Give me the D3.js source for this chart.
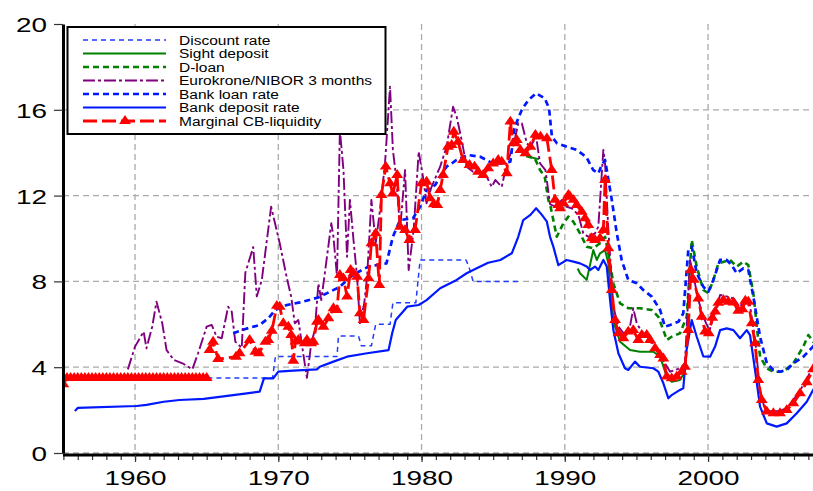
<!DOCTYPE html>
<meta charset="utf-8">
<head>
<style>
  body { margin: 0; background: #fff; }
  svg { font-family: "Liberation Sans", Arial, sans-serif; }
  .axis text { font-size: 21px; fill: #000; }
  .axis .domain { stroke: #000; stroke-width: 3px; }
  .grid line { stroke: #aaa; stroke-width: 1.3px; stroke-dasharray: 6,4; }
  .legend text { font-size: 13.5px; fill: #000; }
</style>
</head>
<body>
<div id="chart"></div>
<script src="https://d3js.org/d3.v7.min.js"></script>
<script>

var yTicks = [0, 4, 8, 12, 16, 20];
var xTicks = [1960, 1970, 1980, 1990, 2000];

var discountRate = [[1955,3.5],[1969.6,3.5],[1969.8,4.5],[1974.1,4.5],[1974.2,5.45],[1975.6,5.45],[1975.8,5.0],[1976.5,5.0],
  [1976.8,6.0],[1977.8,6.0],[1978.0,7.0],[1979.6,7.0],[1979.9,9.0],[1983.1,9.0],[1983.3,8.7],[1983.6,8.0],[1986.8,8.0]];

var sightDeposit = [[1987.5,13.8],[1988.2,13.7], null,
  [1990.9,8.6],[1991.06,8.38],[1991.53,8.07],[1991.99,9.46],[1992.23,9.0],[1992.46,9.31],[1992.81,9.46],[1993.04,8.84],
  [1993.28,6.82],[1993.51,5.89],[1993.86,5.19],[1994.55,4.8],[1995.25,4.72],[1996.18,4.72],[1996.65,4.49],[1997.12,3.56],
  [1997.46,3.32],[1998.04,3.4],[1998.3,3.7]];

var dLoan = [[1987.3,13.85],[1987.9,13.75],[1988.27,13.19],[1988.6,12.88],[1988.85,11.8],[1989.0,11.5],[1989.44,10.08],
  [1989.9,10.71],[1990.25,11.02],[1990.6,10.78],[1991.06,10.24],[1991.53,9.62],[1991.99,9.54],[1992.46,9.78],[1992.81,10.08],
  [1993.04,9.31],[1993.39,7.91],[1993.86,6.98],[1994.43,6.75],[1995.25,6.75],[1996.07,6.67],[1996.53,6.35],[1996.88,5.73],
  [1997.12,5.27],[1997.46,5.42],[1998.04,5.58],[1998.51,6.35],[1998.86,9.93],[1999.21,8.69],[1999.67,7.6],[2000.02,7.45],
  [2000.37,8.07],[2000.72,8.84],[2001.53,9.0],[2002.0,8.69],[2002.46,8.92],[2002.81,8.76],[2003.16,7.45],[2003.63,4.49],
  [2004.1,3.95],[2004.56,3.79],[2005.26,3.79],[2005.95,4.18],[2006.65,4.96],[2007.0,5.5],[2007.33,5.19],[2007.5,5.1]];

var eurokrone = [[1959.5,3.9],[1960.0,4.96],[1960.6,5.66],[1960.8,4.88],[1961.2,5.89],[1961.5,7.05],[1961.9,6.05],[1962.2,4.8],
  [1962.7,4.34],[1963.4,4.15],[1964.0,3.9],[1964.4,4.65],[1965.0,5.89],[1965.35,5.97],[1965.7,5.42],[1966.05,5.35],[1966.5,6.82],
  [1966.75,6.59],[1967.0,5.19],[1967.45,4.9],[1967.7,8.4],[1968.25,9.6],[1968.5,7.3],[1968.85,8.07],[1969.5,11.48],[1970.1,9.78],
  [1970.6,8.15],[1970.9,7.29],[1971.15,6.05],[1971.4,6.2],[1971.75,4.6],[1972.0,3.5],[1972.3,5.11],[1972.55,5.73],[1972.8,7.9],
  [1973.0,7.13],[1973.4,9.15],[1973.7,10.71],[1973.85,10.08],[1974.1,8.22],[1974.3,15.06],[1974.55,13.19],[1974.8,9.15],
  [1975.0,11.8],[1975.25,9.93],[1975.5,8.22],[1975.7,6.05],[1976.0,6.98],[1976.2,8.22],[1976.5,11.8],[1976.8,9.78],[1977.1,11.33],
  [1977.45,13.5],[1977.8,17.08],[1978.0,14.13],[1978.25,12.73],[1978.5,10.4],[1978.85,13.19],[1979.1,8.53],[1979.45,10.4],
  [1979.8,14.05],[1980.1,12.88],[1980.35,11.64],[1980.7,12.41],[1981.3,13.35],[1981.75,14.28],[1982.2,16.14],[1982.45,15.68],
  [1982.8,14.59],[1983.15,13.35],[1983.6,13.11],[1984.1,13.19],[1984.55,12.88],[1984.9,12.41],[1985.15,12.73],[1985.6,12.41],
  [1985.95,13.5],[1986.4,14.28],[1986.75,15.37],[1987.0,15.37],[1987.35,14.44],[1987.6,14.28],[1988.0,14.75],[1988.27,13.5],
  [1988.65,13.19],[1988.97,11.6],[1989.35,11.48],[1989.8,11.8],[1990.13,11.48],[1990.48,11.41],[1990.95,11.1],[1991.29,10.24],
  [1991.64,10.08],[1992.11,10.24],[1992.34,10.55],[1992.69,14.13],[1992.81,13.5],[1993.04,10.4],[1993.39,6.82],[1993.74,5.89],
  [1994.2,5.5],[1994.55,5.89],[1994.78,6.75],[1995.02,6.05],[1995.37,5.66],[1995.9,5.4],[1996.3,4.96],[1996.99,4.18],
  [1997.35,3.79],[1997.7,3.87],[1998.04,3.95],[1998.39,4.18],[1998.74,9.0],[1999.0,8.2],[1999.32,7.13],[1999.7,6.3],
  [2000.1,5.7],[2000.5,6.6],[2000.84,7.37],[2001.3,7.3],[2001.8,7.2],[2002.2,6.8],[2002.6,7.2],[2002.9,7.0],[2003.3,5.2],
  [2003.6,3.0],[2003.9,2.2],[2004.3,1.95],[2005.0,1.95],[2005.5,2.1],[2006.0,2.5],[2006.5,3.0],[2007.0,3.6],[2007.5,4.3]];

var bankLoan = [[1966.85,5.58],[1967.8,5.8],[1968.7,5.97],[1969.3,6.28],[1969.8,6.67],[1970.6,6.9],[1971.5,7.02],[1972.8,7.25],
  [1974.3,7.75],[1975.2,8.3],[1976.3,8.69],[1977.55,8.84],[1978.0,10.08],[1978.5,10.86],[1979.4,10.94],[1979.9,11.48],
  [1980.35,12.26],[1980.95,12.49],[1981.3,12.9],[1981.75,13.35],[1982.45,13.66],[1983.25,13.89],[1984.1,13.81],[1984.75,13.58],
  [1985.5,13.5],[1986.2,13.58],[1986.5,15.2],[1987.0,16.0],[1987.45,16.45],[1988.0,16.77],[1988.6,16.53],[1988.9,16.07],
  [1989.1,14.75],[1989.45,14.44],[1990.15,14.28],[1990.83,14.13],[1991.5,13.8],[1991.99,13.19],[1992.34,13.04],[1992.58,13.43],
  [1992.81,13.66],[1992.93,13.19],[1993.28,11.8],[1993.63,10.24],[1993.97,9.0],[1994.43,8.07],[1995.02,7.91],[1995.48,7.6],
  [1996.07,7.29],[1996.65,6.67],[1996.99,5.89],[1997.35,5.97],[1997.93,6.12],[1998.27,6.51],[1998.62,9.46],[1998.86,9.62],
  [1999.21,8.38],[1999.67,7.75],[2000.02,7.52],[2000.37,8.07],[2000.84,9.0],[2001.3,9.0],[2001.65,8.76],[2002.0,8.38],
  [2002.46,8.61],[2002.81,8.53],[2003.16,7.29],[2003.63,5.42],[2004.1,4.18],[2004.56,3.87],[2005.02,3.79],[2005.49,3.87],
  [2005.95,4.18],[2006.65,4.49],[2007.33,4.96],[2007.5,5.2]];

var bankDeposit = [[1955.8,1.96],[1956.0,2.1],[1960.1,2.19],[1960.8,2.24],[1962.0,2.39],[1963.1,2.47],[1964.8,2.52],
  [1966.85,2.7],[1967.8,2.78],[1968.7,2.86],[1969.0,3.48],[1969.65,3.48],[1970.0,3.79],[1971.05,3.84],[1972.7,3.9],[1972.9,4.02],
  [1973.85,4.26],[1974.8,4.49],[1976.2,4.65],[1977.7,4.8],[1977.95,5.58],[1978.2,6.2],[1979.0,6.82],[1979.8,6.9],[1980.35,7.13],
  [1981.3,7.68],[1982.45,8.07],[1983.15,8.38],[1983.85,8.61],[1984.65,8.87],[1985.5,9.0],[1986.3,9.31],[1986.75,10.08],
  [1987.1,10.86],[1987.6,11.1],[1988.0,11.41],[1988.4,11.1],[1988.74,10.8],[1988.97,10.08],[1989.2,9.62],[1989.55,8.76],
  [1990.13,9.0],[1990.6,8.92],[1991.06,8.84],[1991.53,8.69],[1991.76,8.53],[1992.11,8.69],[1992.34,8.53],[1992.69,9.0],
  [1992.93,8.69],[1993.16,7.13],[1993.39,5.73],[1993.74,4.65],[1994.2,3.95],[1994.43,3.87],[1994.9,4.26],[1995.25,4.02],
  [1996.18,3.95],[1996.53,3.79],[1996.88,3.25],[1997.23,2.55],[1997.46,2.7],[1998.04,2.94],[1998.27,3.02],[1998.5,4.8],
  [1998.86,6.2],[1999.21,5.42],[1999.67,4.5],[2000.14,4.49],[2000.49,4.96],[2000.84,5.73],[2001.3,5.81],[2001.77,5.73],
  [2002.23,5.35],[2002.7,5.73],[2002.93,5.5],[2003.28,3.87],[2003.63,2.16],[2004.1,1.38],[2004.79,1.23],[2005.49,1.38],
  [2006.19,1.85],[2006.89,2.39],[2007.33,2.94],[2007.5,3.1]];

var marginalCB = [[1955.0,3.2],[1955.25,3.5],[1955.5,3.5],[1955.75,3.5],[1956.0,3.5],[1956.25,3.5],[1956.5,3.5],[1956.75,3.5],
  [1957.0,3.5],[1957.25,3.5],[1957.5,3.5],[1957.75,3.5],[1958.0,3.5],[1958.25,3.5],[1958.5,3.5],[1958.75,3.5],[1959.0,3.5],
  [1959.25,3.5],[1959.5,3.5],[1959.75,3.5],[1960.0,3.5],[1960.25,3.5],[1960.5,3.5],[1960.75,3.5],[1961.0,3.5],[1961.25,3.5],
  [1961.5,3.5],[1961.75,3.5],[1962.0,3.5],[1962.25,3.5],[1962.5,3.5],[1962.75,3.5],[1963.0,3.5],[1963.25,3.5],[1963.5,3.5],
  [1963.75,3.5],[1964.0,3.5],[1964.25,3.5],[1964.5,3.5],[1964.75,3.5],[1965.0,3.5], null,
  [1965.2,4.8],[1965.45,5.19],[1965.8,4.38],[1967.05,4.49],[1967.3,4.65],[1968.0,5.27],[1968.4,4.72],[1968.65,4.65],[1969.1,5.19],
  [1969.3,5.27],[1969.55,5.7],[1969.9,6.86],[1970.1,6.82],[1970.35,6.05],[1970.7,5.89],[1970.9,5.5],[1971.05,4.3],[1971.2,5.2],
  [1971.4,5.27],[1971.85,5.11],[1972.0,5.27],[1972.3,5.11],[1972.45,5.19],[1972.7,6.12],[1972.8,6.2],[1973.15,5.89],[1973.5,6.28],
  [1973.85,6.75],[1974.1,6.67],[1974.3,8.3],[1974.55,8.14],[1974.8,7.29],[1975.05,8.53],[1975.25,8.38],[1975.5,8.22],[1975.7,6.51],
  [1975.95,6.2],[1976.3,8.14],[1976.5,9.78],[1976.8,10.24],[1977.05,7.83],[1977.2,12.03],[1977.5,13.35],[1977.8,12.57],
  [1978.0,12.1],[1978.3,12.96],[1978.5,10.55],[1978.85,10.4],[1979.15,9.93],[1979.55,10.4],[1980.0,12.57],[1980.35,12.65],
  [1980.6,11.87],[1980.85,11.6],[1981.1,11.56],[1981.3,12.26],[1981.5,12.96],[1981.85,14.28],[1982.1,14.36],[1982.25,14.98],
  [1982.55,14.51],[1982.9,13.66],[1983.35,13.43],[1983.7,13.35],[1983.95,13.11],[1984.3,12.96],[1984.65,13.27],[1985.0,13.5],
  [1985.35,13.66],[1985.6,13.58],[1985.95,13.04],[1986.2,15.45],[1986.4,14.44],[1986.65,14.59],[1986.9,14.13],[1987.25,13.97],
  [1987.6,14.28],[1987.95,14.83],[1988.3,14.75],[1988.75,14.67],[1989.09,13.19],[1989.32,11.8],[1989.55,11.56],[1989.67,11.41],
  [1989.9,11.64],[1990.25,12.03],[1990.37,11.95],[1990.6,11.8],[1990.83,11.56],[1991.18,11.25],[1991.41,10.94],[1991.64,10.63],
  [1991.88,10.01],[1992.11,9.93],[1992.46,10.01],[1992.69,10.4],[1992.81,12.73],[1993.04,9.54],[1993.28,7.6],[1993.51,6.2],
  [1993.74,5.58],[1994.09,5.35],[1994.43,5.66],[1994.78,5.73],[1995.13,5.27],[1995.37,5.5],[1995.72,5.5],[1995.95,5.27],
  [1996.3,4.88],[1996.65,4.57],[1996.88,4.41],[1997.12,3.56],[1997.46,3.48],[1997.81,3.56],[1998.16,3.79],[1998.39,4.02],
  [1998.62,5.73],[1998.8,8.53],[1999.0,8.07],[1999.32,7.2],[1999.56,6.35],[1999.79,5.66],[2000.05,5.58],[2000.3,6.3],
  [2000.5,6.59],[2000.72,7.0],[2001.07,7.13],[2001.42,7.05],[2001.77,7.02],[2002.11,6.63],[2002.4,6.7],[2002.6,7.1],
  [2002.81,7.05],[2003.05,6.05],[2003.28,5.11],[2003.51,3.4],[2003.75,2.47],[2004.1,1.93],[2004.56,1.85],[2005.02,1.85],
  [2005.49,2.0],[2005.95,2.32],[2006.42,2.78],[2006.89,3.3],[2007.33,3.9]];

var series = [
  {name: "Discount rate", data: discountRate, color: "#1f3cff", width: 1.5, dash: "5,4"},
  {name: "Sight deposit", data: sightDeposit, color: "#008000", width: 2, dash: null},
  {name: "D-loan", data: dLoan, color: "#008000", width: 2.6, dash: "6,4"},
  {name: "Eurokrone/NIBOR 3 months", data: eurokrone, color: "#800080", width: 1.9, dash: "12,3,3,3"},
  {name: "Bank loan rate", data: bankLoan, color: "#0018ff", width: 2.7, dash: "6,4"},
  {name: "Bank deposit rate", data: bankDeposit, color: "#0018ff", width: 2.2, dash: null},
  {name: "Marginal CB-liquidity", data: marginalCB, color: "#ff0000", width: 2.8, dash: "14,5", marker: true}
];

var W = 813, H = 491;
var stretch = 1.33;   // tick labels in the picture are drawn wide
var x = d3.scaleLinear().domain([1955, 2007.5]).range([63.4, 815.5]);
var y = d3.scaleLinear().domain([0, 20]).range([453, 24]);

var svg = d3.select("#chart").append("svg")
  .attr("width", W)
  .attr("height", H);

// grid
var grid = svg.append("g").attr("class", "grid");
grid.selectAll(".gy").data(yTicks.slice(0, 5)).enter().append("line")
  .attr("x1", 63).attr("x2", W)
  .attr("y1", function(d){ return y(d); })
  .attr("y2", function(d){ return y(d); });
grid.selectAll(".gx").data(xTicks).enter().append("line")
  .attr("x1", function(d){ return x(d); })
  .attr("x2", function(d){ return x(d); })
  .attr("y1", y(20)).attr("y2", y(0));

svg.append("clipPath").attr("id", "clip")
  .append("rect").attr("x", 63).attr("y", 0).attr("width", W - 63).attr("height", 460);

var plot = svg.append("g").attr("clip-path", "url(#clip)");

var line = d3.line()
  .defined(function(d){ return d != null; })
  .x(function(d){ return x(d[0]); })
  .y(function(d){ return y(d[1]); });

var tri = d3.symbol().type(d3.symbolTriangle).size(46);

series.forEach(function(s){
  plot.append("path")
    .datum(s.data)
    .attr("fill", "none")
    .attr("stroke", s.color)
    .attr("stroke-width", s.width)
    .attr("stroke-dasharray", s.dash)
    .attr("stroke-linejoin", "round")
    .attr("d", line);
  if (s.marker) {
    plot.selectAll(".mk").data(s.data.filter(function(d){ return d != null; }))
      .enter().append("path")
      .attr("transform", function(d){ return "translate(" + x(d[0]) + "," + y(d[1]) + ") scale(1.15,1)"; })
      .attr("d", tri)
      .attr("fill", s.color);
  }
});

// axes
var yAxis = d3.axisLeft(y).tickValues(yTicks).tickSize(9).tickSizeOuter(0).tickPadding(6);
var yg = svg.append("g").attr("class", "axis")
  .attr("transform", "translate(63,0)")
  .call(yAxis);
yg.selectAll("text")
  .attr("x", -16 / stretch)
  .attr("dy", "0.36em")
  .attr("transform", "scale(" + stretch + ",1)");

var years = d3.range(1955, 2008);
var xMinor = d3.axisBottom(x).tickValues(years).tickSize(5).tickSizeOuter(0).tickFormat("");
svg.append("g").attr("class", "axis")
  .attr("transform", "translate(0,455)")
  .call(xMinor)
  .select(".domain").remove();

var xAxis = d3.axisBottom(x).tickValues(xTicks).tickSize(7).tickSizeOuter(0).tickPadding(8).tickFormat(d3.format("d"));
var xg = svg.append("g").attr("class", "axis")
  .attr("transform", "translate(0,455)")
  .call(xAxis);
xg.select(".domain").attr("d", "M63,0H" + W);
xg.selectAll("text").attr("transform", "scale(" + stretch + ",1)");
svg.selectAll(".axis .tick line").attr("stroke", "#333").attr("stroke-width", 1.2);

// legend
var ls = 1.15;
var lg = svg.append("g").attr("class", "legend");
lg.append("rect")
  .attr("x", 67.5).attr("y", 27).attr("width", 318).attr("height", 107)
  .attr("fill", "#fff").attr("stroke", "#000").attr("stroke-width", 2);

series.forEach(function(s, i){
  var yy = 40 + i * 13.5;
  lg.append("line")
    .attr("x1", 83).attr("x2", 166)
    .attr("y1", yy).attr("y2", yy)
    .attr("stroke", s.color)
    .attr("stroke-width", s.width)
    .attr("stroke-dasharray", s.dash);
  if (s.marker) {
    lg.append("path")
      .attr("transform", "translate(125," + yy + ") scale(1.15,1)")
      .attr("d", tri)
      .attr("fill", s.color);
  }
  lg.append("text")
    .attr("x", 179 / ls).attr("y", yy)
    .attr("dy", "0.35em")
    .attr("transform", "scale(" + ls + ",1)")
    .text(s.name);
});

</script>
</body>
</html>
